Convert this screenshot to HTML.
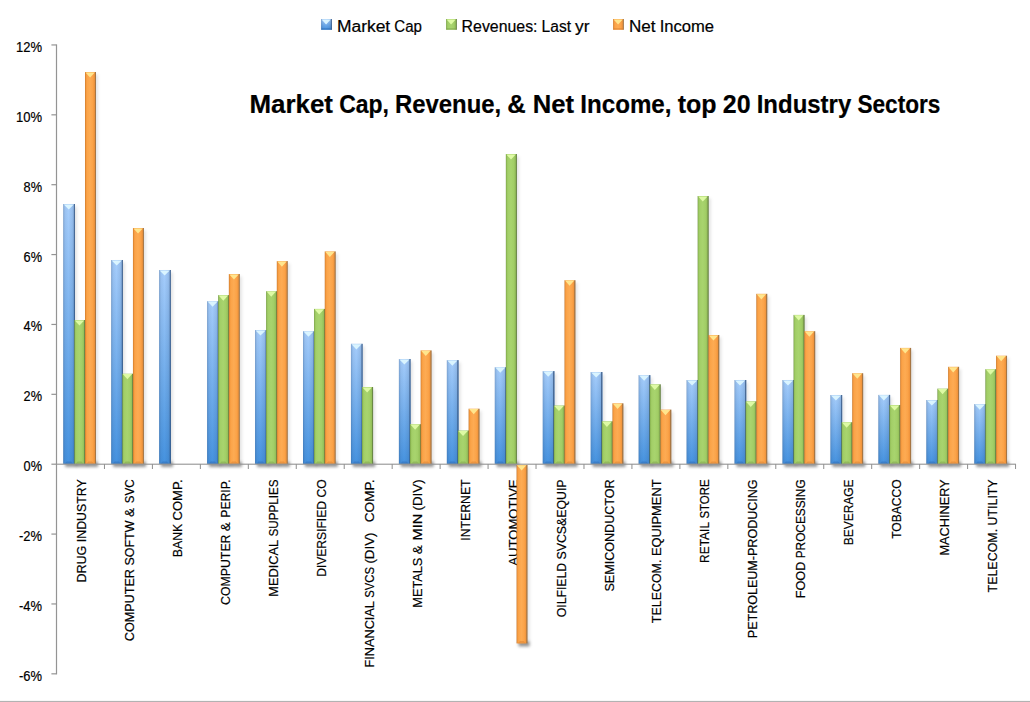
<!DOCTYPE html>
<html><head><meta charset="utf-8"><title>Market Cap, Revenue, &amp; Net Income</title>
<style>
html,body{margin:0;padding:0;background:#fff;}
body{width:1030px;height:702px;overflow:hidden;font-family:"Liberation Sans",sans-serif;}
svg{display:block;}
text{font-family:"Liberation Sans",sans-serif;fill:#000;stroke:#000;stroke-width:0.2px;}
</style></head><body>
<svg width="1030" height="702" viewBox="0 0 1030 702">
<defs>
<linearGradient id="gb" x1="0" y1="0" x2="0" y2="1">
<stop offset="0" stop-color="#a6cdfb"/><stop offset="1" stop-color="#4592df"/></linearGradient>
<linearGradient id="gg" x1="0" y1="0" x2="1" y2="0">
<stop offset="0" stop-color="#6e9242"/><stop offset="0.045" stop-color="#86b04f"/><stop offset="0.1" stop-color="#9ac65f"/>
<stop offset="0.2" stop-color="#a3cf68"/><stop offset="0.45" stop-color="#a8d46e"/>
<stop offset="0.7" stop-color="#a2ce67"/><stop offset="0.86" stop-color="#94c05a"/>
<stop offset="0.895" stop-color="#7c9c4e"/><stop offset="0.915" stop-color="#6c8a47"/>
<stop offset="1" stop-color="#678445"/></linearGradient>
<linearGradient id="go" x1="0" y1="0" x2="1" y2="0">
<stop offset="0" stop-color="#c5762a"/><stop offset="0.045" stop-color="#dd8733"/><stop offset="0.1" stop-color="#f4993f"/>
<stop offset="0.2" stop-color="#fba449"/><stop offset="0.45" stop-color="#fdab53"/>
<stop offset="0.7" stop-color="#fba348"/><stop offset="0.86" stop-color="#f0943c"/>
<stop offset="0.895" stop-color="#c58442"/><stop offset="0.915" stop-color="#a97743"/>
<stop offset="1" stop-color="#a27445"/></linearGradient>
<linearGradient id="sb" x1="0" y1="0" x2="1" y2="0">
<stop offset="0" stop-color="#27456f" stop-opacity="0.40"/>
<stop offset="0.07" stop-color="#27456f" stop-opacity="0.17"/>
<stop offset="0.2" stop-color="#27456f" stop-opacity="0.06"/>
<stop offset="0.45" stop-color="#27456f" stop-opacity="0"/>
<stop offset="0.7" stop-color="#27456f" stop-opacity="0.08"/>
<stop offset="0.86" stop-color="#27456f" stop-opacity="0.16"/>
<stop offset="0.895" stop-color="#27456f" stop-opacity="0.45"/>
<stop offset="0.915" stop-color="#27456f" stop-opacity="0.70"/>
<stop offset="1" stop-color="#27456f" stop-opacity="0.74"/></linearGradient>
<filter id="bl1" x="-5%" y="-5%" width="110%" height="110%"><feGaussianBlur stdDeviation="1.6"/></filter>
<filter id="bl2" x="-5%" y="-5%" width="110%" height="110%"><feGaussianBlur stdDeviation="1.6"/></filter>
</defs>
<rect x="0" y="0" width="1030" height="702" fill="#ffffff"/>
<rect x="0" y="700.9" width="1030" height="1.1" fill="#b2b2b2"/>

<g font-size="14px">
<text x="15.98" y="52.0" textLength="26.02" lengthAdjust="spacingAndGlyphs" >12%</text>
<text x="15.98" y="121.8" textLength="26.02" lengthAdjust="spacingAndGlyphs" >10%</text>
<text x="23.61" y="191.7" textLength="18.39" lengthAdjust="spacingAndGlyphs" >8%</text>
<text x="23.61" y="261.5" textLength="18.39" lengthAdjust="spacingAndGlyphs" >6%</text>
<text x="23.61" y="331.4" textLength="18.39" lengthAdjust="spacingAndGlyphs" >4%</text>
<text x="23.61" y="401.2" textLength="18.39" lengthAdjust="spacingAndGlyphs" >2%</text>
<text x="23.61" y="471.0" textLength="18.39" lengthAdjust="spacingAndGlyphs" >0%</text>
<text x="19.00" y="540.9" textLength="23.00" lengthAdjust="spacingAndGlyphs" >-2%</text>
<text x="19.00" y="610.7" textLength="23.00" lengthAdjust="spacingAndGlyphs" >-4%</text>
<text x="19.00" y="680.6" textLength="23.00" lengthAdjust="spacingAndGlyphs" >-6%</text>
</g>
<g font-size="13.3px">
<g transform="translate(86.08,479.4) rotate(-90)">
<text x="-103.18" y="0" textLength="36.95" lengthAdjust="spacingAndGlyphs" >DRUG</text>
<text x="-62.79" y="0" textLength="62.79" lengthAdjust="spacingAndGlyphs" >INDUSTRY</text>
</g>
<g transform="translate(134.03,479.4) rotate(-90)">
<text x="-161.80" y="0" textLength="72.13" lengthAdjust="spacingAndGlyphs" >COMPUTER</text>
<text x="-86.22" y="0" textLength="45.12" lengthAdjust="spacingAndGlyphs" >SOFTW</text>
<text x="-37.65" y="0" >&amp;</text>
<text x="-23.79" y="0" textLength="23.79" lengthAdjust="spacingAndGlyphs" >SVC</text>
</g>
<g transform="translate(181.98,479.4) rotate(-90)">
<text x="-77.80" y="0" textLength="33.39" lengthAdjust="spacingAndGlyphs" >BANK</text>
<text x="-41.12" y="0" textLength="41.12" lengthAdjust="spacingAndGlyphs" >COMP.</text>
</g>
<g transform="translate(229.93,479.4) rotate(-90)">
<text x="-125.50" y="0" textLength="70.37" lengthAdjust="spacingAndGlyphs" >COMPUTER</text>
<text x="-51.76" y="0" >&amp;</text>
<text x="-38.25" y="0" textLength="38.25" lengthAdjust="spacingAndGlyphs" >PERIP.</text>
</g>
<g transform="translate(277.88,479.4) rotate(-90)">
<text x="-117.37" y="0" textLength="56.88" lengthAdjust="spacingAndGlyphs" >MEDICAL</text>
<text x="-57.06" y="0" textLength="57.06" lengthAdjust="spacingAndGlyphs" >SUPPLIES</text>
</g>
<g transform="translate(325.83,479.4) rotate(-90)">
<text x="-97.45" y="0" textLength="75.85" lengthAdjust="spacingAndGlyphs" >DIVERSIFIED</text>
<text x="-18.16" y="0" textLength="18.16" lengthAdjust="spacingAndGlyphs" >CO</text>
</g>
<g transform="translate(373.78,479.4) rotate(-90)">
<text x="-188.07" y="0" textLength="66.36" lengthAdjust="spacingAndGlyphs" >FINANCIAL</text>
<text x="-118.27" y="0" textLength="30.67" lengthAdjust="spacingAndGlyphs" >SVCS</text>
<text x="-84.16" y="0" textLength="31.01" lengthAdjust="spacingAndGlyphs" >(DIV)</text>
<text x="-42.85" y="0" textLength="42.85" lengthAdjust="spacingAndGlyphs" >COMP.</text>
</g>
<g transform="translate(421.73,479.4) rotate(-90)">
<text x="-128.30" y="0" textLength="49.98" lengthAdjust="spacingAndGlyphs" >METALS</text>
<text x="-74.89" y="0" >&amp;</text>
<text x="-61.09" y="0" textLength="26.65" lengthAdjust="spacingAndGlyphs" >MIN</text>
<text x="-31.01" y="0" textLength="31.01" lengthAdjust="spacingAndGlyphs" >(DIV)</text>
</g>
<g transform="translate(469.68,479.4) rotate(-90)">
<text x="-61.36" y="0" textLength="61.36" lengthAdjust="spacingAndGlyphs" >INTERNET</text>
</g>
<g transform="translate(517.62,479.4) rotate(-90)">
<text x="-86.35" y="0" textLength="86.35" lengthAdjust="spacingAndGlyphs" >AUTOMOTIVE</text>
</g>
<g transform="translate(565.57,479.4) rotate(-90)">
<text x="-137.80" y="0" textLength="54.23" lengthAdjust="spacingAndGlyphs" >OILFIELD</text>
<text x="-80.13" y="0" textLength="80.13" lengthAdjust="spacingAndGlyphs" >SVCS&amp;EQUIP</text>
</g>
<g transform="translate(613.52,479.4) rotate(-90)">
<text x="-112.13" y="0" textLength="112.13" lengthAdjust="spacingAndGlyphs" >SEMICONDUCTOR</text>
</g>
<g transform="translate(661.47,479.4) rotate(-90)">
<text x="-143.78" y="0" textLength="63.61" lengthAdjust="spacingAndGlyphs" >TELECOM.</text>
<text x="-76.73" y="0" textLength="76.73" lengthAdjust="spacingAndGlyphs" >EQUIPMENT</text>
</g>
<g transform="translate(709.42,479.4) rotate(-90)">
<text x="-83.60" y="0" textLength="41.09" lengthAdjust="spacingAndGlyphs" >RETAIL</text>
<text x="-39.16" y="0" textLength="39.16" lengthAdjust="spacingAndGlyphs" >STORE</text>
</g>
<g transform="translate(757.38,479.4) rotate(-90)">
<text x="-158.82" y="0" textLength="158.82" lengthAdjust="spacingAndGlyphs" >PETROLEUM-PRODUCING</text>
</g>
<g transform="translate(805.32,479.4) rotate(-90)">
<text x="-118.77" y="0" textLength="36.45" lengthAdjust="spacingAndGlyphs" >FOOD</text>
<text x="-78.89" y="0" textLength="78.89" lengthAdjust="spacingAndGlyphs" >PROCESSING</text>
</g>
<g transform="translate(853.27,479.4) rotate(-90)">
<text x="-65.79" y="0" textLength="65.79" lengthAdjust="spacingAndGlyphs" >BEVERAGE</text>
</g>
<g transform="translate(901.22,479.4) rotate(-90)">
<text x="-59.40" y="0" textLength="59.40" lengthAdjust="spacingAndGlyphs" >TOBACCO</text>
</g>
<g transform="translate(949.17,479.4) rotate(-90)">
<text x="-76.09" y="0" textLength="76.09" lengthAdjust="spacingAndGlyphs" >MACHINERY</text>
</g>
<g transform="translate(997.12,479.4) rotate(-90)">
<text x="-113.06" y="0" textLength="63.61" lengthAdjust="spacingAndGlyphs" >TELECOM.</text>
<text x="-46.01" y="0" textLength="46.01" lengthAdjust="spacingAndGlyphs" >UTILITY</text>
</g>
</g>
<g filter="url(#bl1)" fill="#000" fill-opacity="0.11">
<rect x="65.25" y="206.50" width="11.75" height="259.90"/>
<rect x="113.20" y="262.50" width="11.75" height="203.90"/>
<rect x="161.15" y="272.50" width="11.75" height="193.90"/>
<rect x="209.10" y="303.70" width="11.75" height="162.70"/>
<rect x="257.05" y="332.50" width="11.75" height="133.90"/>
<rect x="305.00" y="333.70" width="11.75" height="132.70"/>
<rect x="352.95" y="346.30" width="11.75" height="120.10"/>
<rect x="400.90" y="361.50" width="11.75" height="104.90"/>
<rect x="448.85" y="362.60" width="11.75" height="103.80"/>
<rect x="496.80" y="369.70" width="11.75" height="96.70"/>
<rect x="544.75" y="373.60" width="11.75" height="92.80"/>
<rect x="592.70" y="374.50" width="11.75" height="91.90"/>
<rect x="640.65" y="377.60" width="11.75" height="88.80"/>
<rect x="688.60" y="382.50" width="11.75" height="83.90"/>
<rect x="736.55" y="382.50" width="11.75" height="83.90"/>
<rect x="784.50" y="382.50" width="11.75" height="83.90"/>
<rect x="832.45" y="397.50" width="11.75" height="68.90"/>
<rect x="880.40" y="397.40" width="11.75" height="69.00"/>
<rect x="928.35" y="402.50" width="11.75" height="63.90"/>
<rect x="976.30" y="406.60" width="11.75" height="59.80"/>
<rect x="76.30" y="322.50" width="11.10" height="143.90"/>
<rect x="124.25" y="376.20" width="11.10" height="90.20"/>
<rect x="220.15" y="297.60" width="11.10" height="168.80"/>
<rect x="268.10" y="293.70" width="11.10" height="172.70"/>
<rect x="316.05" y="311.40" width="11.10" height="155.00"/>
<rect x="364.00" y="389.50" width="11.10" height="76.90"/>
<rect x="411.95" y="426.70" width="11.10" height="39.70"/>
<rect x="459.90" y="433.00" width="11.10" height="33.40"/>
<rect x="507.85" y="156.50" width="11.10" height="309.90"/>
<rect x="555.80" y="408.00" width="11.10" height="58.40"/>
<rect x="603.75" y="423.80" width="11.10" height="42.60"/>
<rect x="651.70" y="386.80" width="11.10" height="79.60"/>
<rect x="699.65" y="198.50" width="11.10" height="267.90"/>
<rect x="747.60" y="403.80" width="11.10" height="62.60"/>
<rect x="795.55" y="317.40" width="11.10" height="149.00"/>
<rect x="843.50" y="424.70" width="11.10" height="41.70"/>
<rect x="891.45" y="407.50" width="11.10" height="58.90"/>
<rect x="939.40" y="391.10" width="11.10" height="75.30"/>
<rect x="987.35" y="371.70" width="11.10" height="94.70"/>
<rect x="87.00" y="74.50" width="11.00" height="391.90"/>
<rect x="134.95" y="230.50" width="11.00" height="235.90"/>
<rect x="230.85" y="276.50" width="11.00" height="189.90"/>
<rect x="278.80" y="263.60" width="11.00" height="202.80"/>
<rect x="326.75" y="253.90" width="11.00" height="212.50"/>
<rect x="422.65" y="352.90" width="11.00" height="113.50"/>
<rect x="470.60" y="411.20" width="11.00" height="55.20"/>
<rect x="518.55" y="467.40" width="11.00" height="178.50"/>
<rect x="566.50" y="282.70" width="11.00" height="183.70"/>
<rect x="614.45" y="405.80" width="11.00" height="60.60"/>
<rect x="662.40" y="412.10" width="11.00" height="54.30"/>
<rect x="710.35" y="337.50" width="11.00" height="128.90"/>
<rect x="758.30" y="296.30" width="11.00" height="170.10"/>
<rect x="806.25" y="333.70" width="11.00" height="132.70"/>
<rect x="854.20" y="375.70" width="11.00" height="90.70"/>
<rect x="902.15" y="350.40" width="11.00" height="116.00"/>
<rect x="950.10" y="369.30" width="11.00" height="97.10"/>
<rect x="998.05" y="358.20" width="11.00" height="108.20"/>
</g>
<g filter="url(#bl2)" fill="#000" fill-opacity="0.36">
<rect x="65.25" y="461.90" width="11.75" height="5.0"/>
<rect x="113.20" y="461.90" width="11.75" height="5.0"/>
<rect x="161.15" y="461.90" width="11.75" height="5.0"/>
<rect x="209.10" y="461.90" width="11.75" height="5.0"/>
<rect x="257.05" y="461.90" width="11.75" height="5.0"/>
<rect x="305.00" y="461.90" width="11.75" height="5.0"/>
<rect x="352.95" y="461.90" width="11.75" height="5.0"/>
<rect x="400.90" y="461.90" width="11.75" height="5.0"/>
<rect x="448.85" y="461.90" width="11.75" height="5.0"/>
<rect x="496.80" y="461.90" width="11.75" height="5.0"/>
<rect x="544.75" y="461.90" width="11.75" height="5.0"/>
<rect x="592.70" y="461.90" width="11.75" height="5.0"/>
<rect x="640.65" y="461.90" width="11.75" height="5.0"/>
<rect x="688.60" y="461.90" width="11.75" height="5.0"/>
<rect x="736.55" y="461.90" width="11.75" height="5.0"/>
<rect x="784.50" y="461.90" width="11.75" height="5.0"/>
<rect x="832.45" y="461.90" width="11.75" height="5.0"/>
<rect x="880.40" y="461.90" width="11.75" height="5.0"/>
<rect x="928.35" y="461.90" width="11.75" height="5.0"/>
<rect x="976.30" y="461.90" width="11.75" height="5.0"/>
<rect x="76.30" y="461.90" width="11.10" height="5.0"/>
<rect x="124.25" y="461.90" width="11.10" height="5.0"/>
<rect x="220.15" y="461.90" width="11.10" height="5.0"/>
<rect x="268.10" y="461.90" width="11.10" height="5.0"/>
<rect x="316.05" y="461.90" width="11.10" height="5.0"/>
<rect x="364.00" y="461.90" width="11.10" height="5.0"/>
<rect x="411.95" y="461.90" width="11.10" height="5.0"/>
<rect x="459.90" y="461.90" width="11.10" height="5.0"/>
<rect x="507.85" y="461.90" width="11.10" height="5.0"/>
<rect x="555.80" y="461.90" width="11.10" height="5.0"/>
<rect x="603.75" y="461.90" width="11.10" height="5.0"/>
<rect x="651.70" y="461.90" width="11.10" height="5.0"/>
<rect x="699.65" y="461.90" width="11.10" height="5.0"/>
<rect x="747.60" y="461.90" width="11.10" height="5.0"/>
<rect x="795.55" y="461.90" width="11.10" height="5.0"/>
<rect x="843.50" y="461.90" width="11.10" height="5.0"/>
<rect x="891.45" y="461.90" width="11.10" height="5.0"/>
<rect x="939.40" y="461.90" width="11.10" height="5.0"/>
<rect x="987.35" y="461.90" width="11.10" height="5.0"/>
<rect x="87.00" y="461.90" width="11.00" height="5.0"/>
<rect x="134.95" y="461.90" width="11.00" height="5.0"/>
<rect x="230.85" y="461.90" width="11.00" height="5.0"/>
<rect x="278.80" y="461.90" width="11.00" height="5.0"/>
<rect x="326.75" y="461.90" width="11.00" height="5.0"/>
<rect x="422.65" y="461.90" width="11.00" height="5.0"/>
<rect x="470.60" y="461.90" width="11.00" height="5.0"/>
<rect x="518.55" y="641.40" width="11.00" height="5.0"/>
<rect x="566.50" y="461.90" width="11.00" height="5.0"/>
<rect x="614.45" y="461.90" width="11.00" height="5.0"/>
<rect x="662.40" y="461.90" width="11.00" height="5.0"/>
<rect x="710.35" y="461.90" width="11.00" height="5.0"/>
<rect x="758.30" y="461.90" width="11.00" height="5.0"/>
<rect x="806.25" y="461.90" width="11.00" height="5.0"/>
<rect x="854.20" y="461.90" width="11.00" height="5.0"/>
<rect x="902.15" y="461.90" width="11.00" height="5.0"/>
<rect x="950.10" y="461.90" width="11.00" height="5.0"/>
<rect x="998.05" y="461.90" width="11.00" height="5.0"/>
</g>
<g>
<rect x="63.25" y="204.00" width="11.75" height="259.90" fill="url(#gb)"/>
<rect x="63.25" y="204.00" width="11.75" height="259.90" fill="url(#sb)"/>
<path d="M63.75 204.40 L73.80 204.40 L68.72 209.60 Z" fill="#dcf6ff" fill-opacity="0.97"/>
<path d="M64.25 463.90 L73.40 463.90 L71.00 461.50 L66.65 461.50 Z" fill="#2f6cb4" fill-opacity="0.5"/>
<rect x="74.30" y="320.00" width="11.10" height="143.90" fill="url(#gg)"/>
<path d="M74.80 320.40 L84.20 320.40 L79.45 325.60 Z" fill="#e0fba6" fill-opacity="0.97"/>
<path d="M75.30 463.90 L83.80 463.90 L81.40 461.50 L77.70 461.50 Z" fill="#7da24c" fill-opacity="0.5"/>
<rect x="85.00" y="72.00" width="11.00" height="391.90" fill="url(#go)"/>
<path d="M85.50 72.40 L94.80 72.40 L90.10 77.60 Z" fill="#ffe78f" fill-opacity="0.97"/>
<path d="M86.00 463.90 L94.40 463.90 L92.00 461.50 L88.40 461.50 Z" fill="#d9802f" fill-opacity="0.5"/>
<rect x="111.20" y="260.00" width="11.75" height="203.90" fill="url(#gb)"/>
<rect x="111.20" y="260.00" width="11.75" height="203.90" fill="url(#sb)"/>
<path d="M111.70 260.40 L121.75 260.40 L116.67 265.60 Z" fill="#dcf6ff" fill-opacity="0.97"/>
<path d="M112.20 463.90 L121.35 463.90 L118.95 461.50 L114.60 461.50 Z" fill="#2f6cb4" fill-opacity="0.5"/>
<rect x="122.25" y="373.70" width="11.10" height="90.20" fill="url(#gg)"/>
<path d="M122.75 374.10 L132.15 374.10 L127.40 379.30 Z" fill="#e0fba6" fill-opacity="0.97"/>
<path d="M123.25 463.90 L131.75 463.90 L129.35 461.50 L125.65 461.50 Z" fill="#7da24c" fill-opacity="0.5"/>
<rect x="132.95" y="228.00" width="11.00" height="235.90" fill="url(#go)"/>
<path d="M133.45 228.40 L142.75 228.40 L138.05 233.60 Z" fill="#ffe78f" fill-opacity="0.97"/>
<path d="M133.95 463.90 L142.35 463.90 L139.95 461.50 L136.35 461.50 Z" fill="#d9802f" fill-opacity="0.5"/>
<rect x="159.15" y="270.00" width="11.75" height="193.90" fill="url(#gb)"/>
<rect x="159.15" y="270.00" width="11.75" height="193.90" fill="url(#sb)"/>
<path d="M159.65 270.40 L169.70 270.40 L164.62 275.60 Z" fill="#dcf6ff" fill-opacity="0.97"/>
<path d="M160.15 463.90 L169.30 463.90 L166.90 461.50 L162.55 461.50 Z" fill="#2f6cb4" fill-opacity="0.5"/>
<rect x="207.10" y="301.20" width="11.75" height="162.70" fill="url(#gb)"/>
<rect x="207.10" y="301.20" width="11.75" height="162.70" fill="url(#sb)"/>
<path d="M207.60 301.60 L217.65 301.60 L212.58 306.80 Z" fill="#dcf6ff" fill-opacity="0.97"/>
<path d="M208.10 463.90 L217.25 463.90 L214.85 461.50 L210.50 461.50 Z" fill="#2f6cb4" fill-opacity="0.5"/>
<rect x="218.15" y="295.10" width="11.10" height="168.80" fill="url(#gg)"/>
<path d="M218.65 295.50 L228.05 295.50 L223.30 300.70 Z" fill="#e0fba6" fill-opacity="0.97"/>
<path d="M219.15 463.90 L227.65 463.90 L225.25 461.50 L221.55 461.50 Z" fill="#7da24c" fill-opacity="0.5"/>
<rect x="228.85" y="274.00" width="11.00" height="189.90" fill="url(#go)"/>
<path d="M229.35 274.40 L238.65 274.40 L233.95 279.60 Z" fill="#ffe78f" fill-opacity="0.97"/>
<path d="M229.85 463.90 L238.25 463.90 L235.85 461.50 L232.25 461.50 Z" fill="#d9802f" fill-opacity="0.5"/>
<rect x="255.05" y="330.00" width="11.75" height="133.90" fill="url(#gb)"/>
<rect x="255.05" y="330.00" width="11.75" height="133.90" fill="url(#sb)"/>
<path d="M255.55 330.40 L265.60 330.40 L260.53 335.60 Z" fill="#dcf6ff" fill-opacity="0.97"/>
<path d="M256.05 463.90 L265.20 463.90 L262.80 461.50 L258.45 461.50 Z" fill="#2f6cb4" fill-opacity="0.5"/>
<rect x="266.10" y="291.20" width="11.10" height="172.70" fill="url(#gg)"/>
<path d="M266.60 291.60 L276.00 291.60 L271.25 296.80 Z" fill="#e0fba6" fill-opacity="0.97"/>
<path d="M267.10 463.90 L275.60 463.90 L273.20 461.50 L269.50 461.50 Z" fill="#7da24c" fill-opacity="0.5"/>
<rect x="276.80" y="261.10" width="11.00" height="202.80" fill="url(#go)"/>
<path d="M277.30 261.50 L286.60 261.50 L281.90 266.70 Z" fill="#ffe78f" fill-opacity="0.97"/>
<path d="M277.80 463.90 L286.20 463.90 L283.80 461.50 L280.20 461.50 Z" fill="#d9802f" fill-opacity="0.5"/>
<rect x="303.00" y="331.20" width="11.75" height="132.70" fill="url(#gb)"/>
<rect x="303.00" y="331.20" width="11.75" height="132.70" fill="url(#sb)"/>
<path d="M303.50 331.60 L313.55 331.60 L308.48 336.80 Z" fill="#dcf6ff" fill-opacity="0.97"/>
<path d="M304.00 463.90 L313.15 463.90 L310.75 461.50 L306.40 461.50 Z" fill="#2f6cb4" fill-opacity="0.5"/>
<rect x="314.05" y="308.90" width="11.10" height="155.00" fill="url(#gg)"/>
<path d="M314.55 309.30 L323.95 309.30 L319.20 314.50 Z" fill="#e0fba6" fill-opacity="0.97"/>
<path d="M315.05 463.90 L323.55 463.90 L321.15 461.50 L317.45 461.50 Z" fill="#7da24c" fill-opacity="0.5"/>
<rect x="324.75" y="251.40" width="11.00" height="212.50" fill="url(#go)"/>
<path d="M325.25 251.80 L334.55 251.80 L329.85 257.00 Z" fill="#ffe78f" fill-opacity="0.97"/>
<path d="M325.75 463.90 L334.15 463.90 L331.75 461.50 L328.15 461.50 Z" fill="#d9802f" fill-opacity="0.5"/>
<rect x="350.95" y="343.80" width="11.75" height="120.10" fill="url(#gb)"/>
<rect x="350.95" y="343.80" width="11.75" height="120.10" fill="url(#sb)"/>
<path d="M351.45 344.20 L361.50 344.20 L356.43 349.40 Z" fill="#dcf6ff" fill-opacity="0.97"/>
<path d="M351.95 463.90 L361.10 463.90 L358.70 461.50 L354.35 461.50 Z" fill="#2f6cb4" fill-opacity="0.5"/>
<rect x="362.00" y="387.00" width="11.10" height="76.90" fill="url(#gg)"/>
<path d="M362.50 387.40 L371.90 387.40 L367.15 392.60 Z" fill="#e0fba6" fill-opacity="0.97"/>
<path d="M363.00 463.90 L371.50 463.90 L369.10 461.50 L365.40 461.50 Z" fill="#7da24c" fill-opacity="0.5"/>
<rect x="398.90" y="359.00" width="11.75" height="104.90" fill="url(#gb)"/>
<rect x="398.90" y="359.00" width="11.75" height="104.90" fill="url(#sb)"/>
<path d="M399.40 359.40 L409.45 359.40 L404.38 364.60 Z" fill="#dcf6ff" fill-opacity="0.97"/>
<path d="M399.90 463.90 L409.05 463.90 L406.65 461.50 L402.30 461.50 Z" fill="#2f6cb4" fill-opacity="0.5"/>
<rect x="409.95" y="424.20" width="11.10" height="39.70" fill="url(#gg)"/>
<path d="M410.45 424.60 L419.85 424.60 L415.10 429.80 Z" fill="#e0fba6" fill-opacity="0.97"/>
<path d="M410.95 463.90 L419.45 463.90 L417.05 461.50 L413.35 461.50 Z" fill="#7da24c" fill-opacity="0.5"/>
<rect x="420.65" y="350.40" width="11.00" height="113.50" fill="url(#go)"/>
<path d="M421.15 350.80 L430.45 350.80 L425.75 356.00 Z" fill="#ffe78f" fill-opacity="0.97"/>
<path d="M421.65 463.90 L430.05 463.90 L427.65 461.50 L424.05 461.50 Z" fill="#d9802f" fill-opacity="0.5"/>
<rect x="446.85" y="360.10" width="11.75" height="103.80" fill="url(#gb)"/>
<rect x="446.85" y="360.10" width="11.75" height="103.80" fill="url(#sb)"/>
<path d="M447.35 360.50 L457.40 360.50 L452.33 365.70 Z" fill="#dcf6ff" fill-opacity="0.97"/>
<path d="M447.85 463.90 L457.00 463.90 L454.60 461.50 L450.25 461.50 Z" fill="#2f6cb4" fill-opacity="0.5"/>
<rect x="457.90" y="430.50" width="11.10" height="33.40" fill="url(#gg)"/>
<path d="M458.40 430.90 L467.80 430.90 L463.05 436.10 Z" fill="#e0fba6" fill-opacity="0.97"/>
<path d="M458.90 463.90 L467.40 463.90 L465.00 461.50 L461.30 461.50 Z" fill="#7da24c" fill-opacity="0.5"/>
<rect x="468.60" y="408.70" width="11.00" height="55.20" fill="url(#go)"/>
<path d="M469.10 409.10 L478.40 409.10 L473.70 414.30 Z" fill="#ffe78f" fill-opacity="0.97"/>
<path d="M469.60 463.90 L478.00 463.90 L475.60 461.50 L472.00 461.50 Z" fill="#d9802f" fill-opacity="0.5"/>
<rect x="494.80" y="367.20" width="11.75" height="96.70" fill="url(#gb)"/>
<rect x="494.80" y="367.20" width="11.75" height="96.70" fill="url(#sb)"/>
<path d="M495.30 367.60 L505.35 367.60 L500.28 372.80 Z" fill="#dcf6ff" fill-opacity="0.97"/>
<path d="M495.80 463.90 L504.95 463.90 L502.55 461.50 L498.20 461.50 Z" fill="#2f6cb4" fill-opacity="0.5"/>
<rect x="505.85" y="154.00" width="11.10" height="309.90" fill="url(#gg)"/>
<path d="M506.35 154.40 L515.75 154.40 L511.00 159.60 Z" fill="#e0fba6" fill-opacity="0.97"/>
<path d="M506.85 463.90 L515.35 463.90 L512.95 461.50 L509.25 461.50 Z" fill="#7da24c" fill-opacity="0.5"/>
<rect x="516.55" y="464.90" width="11.00" height="178.50" fill="url(#go)"/>
<path d="M517.05 465.30 L526.35 465.30 L521.65 470.50 Z" fill="#ffe78f" fill-opacity="0.97"/>
<path d="M517.55 643.40 L525.95 643.40 L523.55 641.00 L519.95 641.00 Z" fill="#d9802f" fill-opacity="0.5"/>
<rect x="542.75" y="371.10" width="11.75" height="92.80" fill="url(#gb)"/>
<rect x="542.75" y="371.10" width="11.75" height="92.80" fill="url(#sb)"/>
<path d="M543.25 371.50 L553.30 371.50 L548.23 376.70 Z" fill="#dcf6ff" fill-opacity="0.97"/>
<path d="M543.75 463.90 L552.90 463.90 L550.50 461.50 L546.15 461.50 Z" fill="#2f6cb4" fill-opacity="0.5"/>
<rect x="553.80" y="405.50" width="11.10" height="58.40" fill="url(#gg)"/>
<path d="M554.30 405.90 L563.70 405.90 L558.95 411.10 Z" fill="#e0fba6" fill-opacity="0.97"/>
<path d="M554.80 463.90 L563.30 463.90 L560.90 461.50 L557.20 461.50 Z" fill="#7da24c" fill-opacity="0.5"/>
<rect x="564.50" y="280.20" width="11.00" height="183.70" fill="url(#go)"/>
<path d="M565.00 280.60 L574.30 280.60 L569.60 285.80 Z" fill="#ffe78f" fill-opacity="0.97"/>
<path d="M565.50 463.90 L573.90 463.90 L571.50 461.50 L567.90 461.50 Z" fill="#d9802f" fill-opacity="0.5"/>
<rect x="590.70" y="372.00" width="11.75" height="91.90" fill="url(#gb)"/>
<rect x="590.70" y="372.00" width="11.75" height="91.90" fill="url(#sb)"/>
<path d="M591.20 372.40 L601.25 372.40 L596.18 377.60 Z" fill="#dcf6ff" fill-opacity="0.97"/>
<path d="M591.70 463.90 L600.85 463.90 L598.45 461.50 L594.10 461.50 Z" fill="#2f6cb4" fill-opacity="0.5"/>
<rect x="601.75" y="421.30" width="11.10" height="42.60" fill="url(#gg)"/>
<path d="M602.25 421.70 L611.65 421.70 L606.90 426.90 Z" fill="#e0fba6" fill-opacity="0.97"/>
<path d="M602.75 463.90 L611.25 463.90 L608.85 461.50 L605.15 461.50 Z" fill="#7da24c" fill-opacity="0.5"/>
<rect x="612.45" y="403.30" width="11.00" height="60.60" fill="url(#go)"/>
<path d="M612.95 403.70 L622.25 403.70 L617.55 408.90 Z" fill="#ffe78f" fill-opacity="0.97"/>
<path d="M613.45 463.90 L621.85 463.90 L619.45 461.50 L615.85 461.50 Z" fill="#d9802f" fill-opacity="0.5"/>
<rect x="638.65" y="375.10" width="11.75" height="88.80" fill="url(#gb)"/>
<rect x="638.65" y="375.10" width="11.75" height="88.80" fill="url(#sb)"/>
<path d="M639.15 375.50 L649.20 375.50 L644.13 380.70 Z" fill="#dcf6ff" fill-opacity="0.97"/>
<path d="M639.65 463.90 L648.80 463.90 L646.40 461.50 L642.05 461.50 Z" fill="#2f6cb4" fill-opacity="0.5"/>
<rect x="649.70" y="384.30" width="11.10" height="79.60" fill="url(#gg)"/>
<path d="M650.20 384.70 L659.60 384.70 L654.85 389.90 Z" fill="#e0fba6" fill-opacity="0.97"/>
<path d="M650.70 463.90 L659.20 463.90 L656.80 461.50 L653.10 461.50 Z" fill="#7da24c" fill-opacity="0.5"/>
<rect x="660.40" y="409.60" width="11.00" height="54.30" fill="url(#go)"/>
<path d="M660.90 410.00 L670.20 410.00 L665.50 415.20 Z" fill="#ffe78f" fill-opacity="0.97"/>
<path d="M661.40 463.90 L669.80 463.90 L667.40 461.50 L663.80 461.50 Z" fill="#d9802f" fill-opacity="0.5"/>
<rect x="686.60" y="380.00" width="11.75" height="83.90" fill="url(#gb)"/>
<rect x="686.60" y="380.00" width="11.75" height="83.90" fill="url(#sb)"/>
<path d="M687.10 380.40 L697.15 380.40 L692.08 385.60 Z" fill="#dcf6ff" fill-opacity="0.97"/>
<path d="M687.60 463.90 L696.75 463.90 L694.35 461.50 L690.00 461.50 Z" fill="#2f6cb4" fill-opacity="0.5"/>
<rect x="697.65" y="196.00" width="11.10" height="267.90" fill="url(#gg)"/>
<path d="M698.15 196.40 L707.55 196.40 L702.80 201.60 Z" fill="#e0fba6" fill-opacity="0.97"/>
<path d="M698.65 463.90 L707.15 463.90 L704.75 461.50 L701.05 461.50 Z" fill="#7da24c" fill-opacity="0.5"/>
<rect x="708.35" y="335.00" width="11.00" height="128.90" fill="url(#go)"/>
<path d="M708.85 335.40 L718.15 335.40 L713.45 340.60 Z" fill="#ffe78f" fill-opacity="0.97"/>
<path d="M709.35 463.90 L717.75 463.90 L715.35 461.50 L711.75 461.50 Z" fill="#d9802f" fill-opacity="0.5"/>
<rect x="734.55" y="380.00" width="11.75" height="83.90" fill="url(#gb)"/>
<rect x="734.55" y="380.00" width="11.75" height="83.90" fill="url(#sb)"/>
<path d="M735.05 380.40 L745.10 380.40 L740.03 385.60 Z" fill="#dcf6ff" fill-opacity="0.97"/>
<path d="M735.55 463.90 L744.70 463.90 L742.30 461.50 L737.95 461.50 Z" fill="#2f6cb4" fill-opacity="0.5"/>
<rect x="745.60" y="401.30" width="11.10" height="62.60" fill="url(#gg)"/>
<path d="M746.10 401.70 L755.50 401.70 L750.75 406.90 Z" fill="#e0fba6" fill-opacity="0.97"/>
<path d="M746.60 463.90 L755.10 463.90 L752.70 461.50 L749.00 461.50 Z" fill="#7da24c" fill-opacity="0.5"/>
<rect x="756.30" y="293.80" width="11.00" height="170.10" fill="url(#go)"/>
<path d="M756.80 294.20 L766.10 294.20 L761.40 299.40 Z" fill="#ffe78f" fill-opacity="0.97"/>
<path d="M757.30 463.90 L765.70 463.90 L763.30 461.50 L759.70 461.50 Z" fill="#d9802f" fill-opacity="0.5"/>
<rect x="782.50" y="380.00" width="11.75" height="83.90" fill="url(#gb)"/>
<rect x="782.50" y="380.00" width="11.75" height="83.90" fill="url(#sb)"/>
<path d="M783.00 380.40 L793.05 380.40 L787.98 385.60 Z" fill="#dcf6ff" fill-opacity="0.97"/>
<path d="M783.50 463.90 L792.65 463.90 L790.25 461.50 L785.90 461.50 Z" fill="#2f6cb4" fill-opacity="0.5"/>
<rect x="793.55" y="314.90" width="11.10" height="149.00" fill="url(#gg)"/>
<path d="M794.05 315.30 L803.45 315.30 L798.70 320.50 Z" fill="#e0fba6" fill-opacity="0.97"/>
<path d="M794.55 463.90 L803.05 463.90 L800.65 461.50 L796.95 461.50 Z" fill="#7da24c" fill-opacity="0.5"/>
<rect x="804.25" y="331.20" width="11.00" height="132.70" fill="url(#go)"/>
<path d="M804.75 331.60 L814.05 331.60 L809.35 336.80 Z" fill="#ffe78f" fill-opacity="0.97"/>
<path d="M805.25 463.90 L813.65 463.90 L811.25 461.50 L807.65 461.50 Z" fill="#d9802f" fill-opacity="0.5"/>
<rect x="830.45" y="395.00" width="11.75" height="68.90" fill="url(#gb)"/>
<rect x="830.45" y="395.00" width="11.75" height="68.90" fill="url(#sb)"/>
<path d="M830.95 395.40 L841.00 395.40 L835.93 400.60 Z" fill="#dcf6ff" fill-opacity="0.97"/>
<path d="M831.45 463.90 L840.60 463.90 L838.20 461.50 L833.85 461.50 Z" fill="#2f6cb4" fill-opacity="0.5"/>
<rect x="841.50" y="422.20" width="11.10" height="41.70" fill="url(#gg)"/>
<path d="M842.00 422.60 L851.40 422.60 L846.65 427.80 Z" fill="#e0fba6" fill-opacity="0.97"/>
<path d="M842.50 463.90 L851.00 463.90 L848.60 461.50 L844.90 461.50 Z" fill="#7da24c" fill-opacity="0.5"/>
<rect x="852.20" y="373.20" width="11.00" height="90.70" fill="url(#go)"/>
<path d="M852.70 373.60 L862.00 373.60 L857.30 378.80 Z" fill="#ffe78f" fill-opacity="0.97"/>
<path d="M853.20 463.90 L861.60 463.90 L859.20 461.50 L855.60 461.50 Z" fill="#d9802f" fill-opacity="0.5"/>
<rect x="878.40" y="394.90" width="11.75" height="69.00" fill="url(#gb)"/>
<rect x="878.40" y="394.90" width="11.75" height="69.00" fill="url(#sb)"/>
<path d="M878.90 395.30 L888.95 395.30 L883.88 400.50 Z" fill="#dcf6ff" fill-opacity="0.97"/>
<path d="M879.40 463.90 L888.55 463.90 L886.15 461.50 L881.80 461.50 Z" fill="#2f6cb4" fill-opacity="0.5"/>
<rect x="889.45" y="405.00" width="11.10" height="58.90" fill="url(#gg)"/>
<path d="M889.95 405.40 L899.35 405.40 L894.60 410.60 Z" fill="#e0fba6" fill-opacity="0.97"/>
<path d="M890.45 463.90 L898.95 463.90 L896.55 461.50 L892.85 461.50 Z" fill="#7da24c" fill-opacity="0.5"/>
<rect x="900.15" y="347.90" width="11.00" height="116.00" fill="url(#go)"/>
<path d="M900.65 348.30 L909.95 348.30 L905.25 353.50 Z" fill="#ffe78f" fill-opacity="0.97"/>
<path d="M901.15 463.90 L909.55 463.90 L907.15 461.50 L903.55 461.50 Z" fill="#d9802f" fill-opacity="0.5"/>
<rect x="926.35" y="400.00" width="11.75" height="63.90" fill="url(#gb)"/>
<rect x="926.35" y="400.00" width="11.75" height="63.90" fill="url(#sb)"/>
<path d="M926.85 400.40 L936.90 400.40 L931.83 405.60 Z" fill="#dcf6ff" fill-opacity="0.97"/>
<path d="M927.35 463.90 L936.50 463.90 L934.10 461.50 L929.75 461.50 Z" fill="#2f6cb4" fill-opacity="0.5"/>
<rect x="937.40" y="388.60" width="11.10" height="75.30" fill="url(#gg)"/>
<path d="M937.90 389.00 L947.30 389.00 L942.55 394.20 Z" fill="#e0fba6" fill-opacity="0.97"/>
<path d="M938.40 463.90 L946.90 463.90 L944.50 461.50 L940.80 461.50 Z" fill="#7da24c" fill-opacity="0.5"/>
<rect x="948.10" y="366.80" width="11.00" height="97.10" fill="url(#go)"/>
<path d="M948.60 367.20 L957.90 367.20 L953.20 372.40 Z" fill="#ffe78f" fill-opacity="0.97"/>
<path d="M949.10 463.90 L957.50 463.90 L955.10 461.50 L951.50 461.50 Z" fill="#d9802f" fill-opacity="0.5"/>
<rect x="974.30" y="404.10" width="11.75" height="59.80" fill="url(#gb)"/>
<rect x="974.30" y="404.10" width="11.75" height="59.80" fill="url(#sb)"/>
<path d="M974.80 404.50 L984.85 404.50 L979.78 409.70 Z" fill="#dcf6ff" fill-opacity="0.97"/>
<path d="M975.30 463.90 L984.45 463.90 L982.05 461.50 L977.70 461.50 Z" fill="#2f6cb4" fill-opacity="0.5"/>
<rect x="985.35" y="369.20" width="11.10" height="94.70" fill="url(#gg)"/>
<path d="M985.85 369.60 L995.25 369.60 L990.50 374.80 Z" fill="#e0fba6" fill-opacity="0.97"/>
<path d="M986.35 463.90 L994.85 463.90 L992.45 461.50 L988.75 461.50 Z" fill="#7da24c" fill-opacity="0.5"/>
<rect x="996.05" y="355.70" width="11.00" height="108.20" fill="url(#go)"/>
<path d="M996.55 356.10 L1005.85 356.10 L1001.15 361.30 Z" fill="#ffe78f" fill-opacity="0.97"/>
<path d="M997.05 463.90 L1005.45 463.90 L1003.05 461.50 L999.45 461.50 Z" fill="#d9802f" fill-opacity="0.5"/>
</g>
<g fill="#949494">
<rect x="55.9" y="44.4" width="1.2" height="630.0"/>
<rect x="51.4" y="44.35" width="5" height="1.2"/>
<rect x="51.4" y="114.23" width="5" height="1.2"/>
<rect x="51.4" y="184.10" width="5" height="1.2"/>
<rect x="51.4" y="253.97" width="5" height="1.2"/>
<rect x="51.4" y="323.85" width="5" height="1.2"/>
<rect x="51.4" y="393.72" width="5" height="1.2"/>
<rect x="51.4" y="463.60" width="5" height="1.2"/>
<rect x="51.4" y="533.48" width="5" height="1.2"/>
<rect x="51.4" y="603.35" width="5" height="1.2"/>
<rect x="51.4" y="673.23" width="5" height="1.2"/>
<rect x="55.9" y="463.65" width="960.0" height="1.1"/>
<rect x="103.95" y="464" width="1.05" height="5"/>
<rect x="151.90" y="464" width="1.05" height="5"/>
<rect x="199.85" y="464" width="1.05" height="5"/>
<rect x="247.80" y="464" width="1.05" height="5"/>
<rect x="295.75" y="464" width="1.05" height="5"/>
<rect x="343.70" y="464" width="1.05" height="5"/>
<rect x="391.65" y="464" width="1.05" height="5"/>
<rect x="439.60" y="464" width="1.05" height="5"/>
<rect x="487.55" y="464" width="1.05" height="5"/>
<rect x="535.50" y="464" width="1.05" height="5"/>
<rect x="583.45" y="464" width="1.05" height="5"/>
<rect x="631.40" y="464" width="1.05" height="5"/>
<rect x="679.35" y="464" width="1.05" height="5"/>
<rect x="727.30" y="464" width="1.05" height="5"/>
<rect x="775.25" y="464" width="1.05" height="5"/>
<rect x="823.20" y="464" width="1.05" height="5"/>
<rect x="871.15" y="464" width="1.05" height="5"/>
<rect x="919.10" y="464" width="1.05" height="5"/>
<rect x="967.05" y="464" width="1.05" height="5"/>
<rect x="1015.00" y="464" width="1.05" height="5"/>
</g>
<rect x="321.10" y="19.00" width="10.80" height="10.80" fill="url(#gb)"/>
<rect x="321.10" y="19.00" width="10.80" height="10.80" fill="url(#sb)"/>
<path d="M321.60 19.40 L330.70 19.40 L326.10 24.60 Z" fill="#dcf6ff" fill-opacity="0.97"/>
<rect x="321.60" y="28.10" width="9.60" height="1.7" fill="#2f6cb4" fill-opacity="0.5"/>
<rect x="446.10" y="19.00" width="10.80" height="10.80" fill="url(#gg)"/>
<path d="M446.60 19.40 L455.70 19.40 L451.10 24.60 Z" fill="#e0fba6" fill-opacity="0.97"/>
<rect x="446.60" y="28.10" width="9.60" height="1.7" fill="#7da24c" fill-opacity="0.5"/>
<rect x="613.10" y="19.00" width="10.80" height="10.80" fill="url(#go)"/>
<path d="M613.60 19.40 L622.70 19.40 L618.10 24.60 Z" fill="#ffe78f" fill-opacity="0.97"/>
<rect x="613.60" y="28.10" width="9.60" height="1.7" fill="#d9802f" fill-opacity="0.5"/>
<g font-size="16px">
<text x="336.90" y="32.0" textLength="53.34" lengthAdjust="spacingAndGlyphs" >Market</text>
<text x="394.30" y="32.0" textLength="27.60" lengthAdjust="spacingAndGlyphs" >Cap</text>
<text x="461.60" y="32.0" textLength="75.93" lengthAdjust="spacingAndGlyphs" >Revenues:</text>
<text x="541.62" y="32.0" textLength="29.39" lengthAdjust="spacingAndGlyphs" >Last</text>
<text x="575.09" y="32.0" textLength="14.51" lengthAdjust="spacingAndGlyphs" >yr</text>
<text x="629.00" y="32.0" textLength="26.58" lengthAdjust="spacingAndGlyphs" >Net</text>
<text x="659.65" y="32.0" textLength="54.35" lengthAdjust="spacingAndGlyphs" >Income</text>
</g>
<g font-size="25.6px" font-weight="bold">
<text x="249.40" y="113" textLength="83.54" lengthAdjust="spacingAndGlyphs" >Market</text>
<text x="339.13" y="113" textLength="49.75" lengthAdjust="spacingAndGlyphs" >Cap,</text>
<text x="395.06" y="113" textLength="106.09" lengthAdjust="spacingAndGlyphs" >Revenue,</text>
<text x="507.33" y="113" >&amp;</text>
<text x="532.81" y="113" textLength="41.29" lengthAdjust="spacingAndGlyphs" >Net</text>
<text x="580.29" y="113" textLength="91.23" lengthAdjust="spacingAndGlyphs" >Income,</text>
<text x="677.70" y="113" textLength="38.91" lengthAdjust="spacingAndGlyphs" >top</text>
<text x="722.80" y="113" textLength="27.75" lengthAdjust="spacingAndGlyphs" >20</text>
<text x="756.73" y="113" textLength="94.49" lengthAdjust="spacingAndGlyphs" >Industry</text>
<text x="857.40" y="113" textLength="83.00" lengthAdjust="spacingAndGlyphs" >Sectors</text>
</g>
</svg></body></html>
